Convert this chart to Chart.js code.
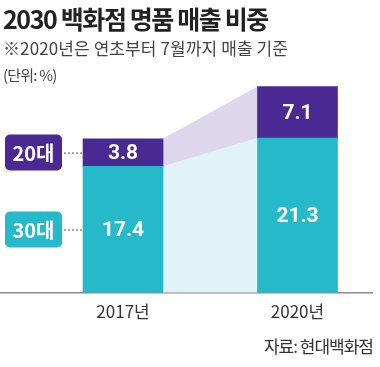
<!DOCTYPE html>
<html>
<head>
<meta charset="utf-8">
<script src="https://cdn.jsdelivr.net/npm/chart.js@4.4.1/dist/chart.umd.min.js"></script>
<style>
  html, body { margin: 0; padding: 0; background: #fff; }
  #wrap { position: relative; width: 380px; height: 367px; overflow: hidden; font-family: "Noto Sans CJK KR", sans-serif; }
  #chart { position: absolute; left: 0; top: 0; }
  .txt { position: absolute; left: 3px; white-space: nowrap; color: #333; }
  #title { top: 0px; font-size: 25px; font-weight: 700; color: #222; letter-spacing: -1.4px; }
  #sub { top: 35px; font-size: 17px; letter-spacing: 0.1px; color: #444; }
  #unit { top: 64px; font-size: 15px; letter-spacing: -0.8px; color: #444; }
  #src { top: 333px; left: auto; right: 7px; font-size: 17px; letter-spacing: -1px; color: #333; }
</style>
</head>
<body>
<div id="wrap">
  <canvas id="chart" width="380" height="367"></canvas>
  <div class="txt" id="title">2030 백화점 명품 매출 비중</div>
  <div class="txt" id="sub">※2020년은 연초부터 7월까지 매출 기준</div>
  <div class="txt" id="unit">(단위: %)</div>
  <div class="txt" id="src">자료: 현대백화점</div>
</div>
<script>
// 연도 / 세대별 비중
const years = ["2017년", "2020년"];
const groups = ["30대", "20대"];
const share30 = [17.4, 21.3];
const share20 = [3.8, 7.1];

const PURPLE = "#4a2a92";
const TEAL = "#25b9c9";
const PURPLE_LIGHT = "#ddd6ec";
const TEAL_LIGHT = "#e2f3f7";

// 막대 사이 연결 띠 + 값 라벨 + 왼쪽 범례 박스
const bandPlugin = {
  id: "band",
  beforeDatasetsDraw(chart) {
    const ctx = chart.ctx;
    const lo = chart.getDatasetMeta(0).data;
    const hi = chart.getDatasetMeta(1).data;
    const a = lo[0], b = lo[1];
    const ah = hi[0], bh = hi[1];
    const ax = a.x + a.width / 2, bx = b.x - b.width / 2;
    ctx.save();
    ctx.fillStyle = TEAL_LIGHT;
    ctx.beginPath();
    ctx.moveTo(ax, a.y); ctx.lineTo(bx, b.y); ctx.lineTo(bx, b.base); ctx.lineTo(ax, a.base);
    ctx.closePath(); ctx.fill();
    ctx.fillStyle = PURPLE_LIGHT;
    ctx.beginPath();
    ctx.moveTo(ax, ah.y); ctx.lineTo(bx, bh.y); ctx.lineTo(bx, bh.base); ctx.lineTo(ax, ah.base);
    ctx.closePath(); ctx.fill();
    ctx.restore();
  },
  afterDatasetsDraw(chart) {
    const ctx = chart.ctx;
    ctx.save();
    ctx.textAlign = "center";
    ctx.textBaseline = "middle";
    ctx.fillStyle = "#fff";
    ctx.font = "bold 21px Roboto, sans-serif";
    chart.data.datasets.forEach((ds, di) => {
      chart.getDatasetMeta(di).data.forEach((bar, i) => {
        const v = ds.data[i].y;
        ctx.fillText(v.toFixed(1), bar.x, (bar.y + bar.base) / 2 + 1);
      });
    });
    // 범례 박스 (첫 막대 기준)
    const first = [chart.getDatasetMeta(0).data[0], chart.getDatasetMeta(1).data[0]];
    const colors = [TEAL, PURPLE];
    first.forEach((bar, gi) => {
      const cy = (bar.y + bar.base) / 2;
      const bx = 5, bw = 57, bh = 36;
      ctx.fillStyle = colors[gi];
      ctx.beginPath();
      ctx.roundRect(bx, cy - bh / 2, bw, bh, 5);
      ctx.fill();
      ctx.fillStyle = "#fff";
      ctx.font = "bold 20px 'Noto Sans CJK KR', sans-serif";
      ctx.fillText(groups[gi], bx + bw / 2, cy + 1);
      // 점선
      ctx.strokeStyle = "#555";
      ctx.lineWidth = 1;
      ctx.setLineDash([2, 2]);
      ctx.beginPath();
      ctx.moveTo(bx + bw + 2, cy + 0.5);
      ctx.lineTo(bar.x - bar.width / 2, cy + 0.5);
      ctx.stroke();
      ctx.setLineDash([]);
    });
    ctx.restore();
  }
};

new Chart(document.getElementById("chart"), {
  type: "bar",
  data: {
    datasets: [
      { label: groups[0], data: share30.map((v, i) => ({ x: i, y: v })), backgroundColor: TEAL, barThickness: 80 },
      { label: groups[1], data: share20.map((v, i) => ({ x: i, y: v })), backgroundColor: PURPLE, barThickness: 80 },
    ],
  },
  options: {
    responsive: false,
    animation: false,
    layout: { padding: { top: 80, left: 0, right: 8, bottom: 36 } },
    plugins: { legend: { display: false }, tooltip: { enabled: false } },
    scales: {
      x: {
        type: "linear",
        stacked: true,
        offset: false,
        min: -0.705,
        max: 1.427,
        afterBuildTicks: (s) => { s.ticks = [{ value: 0 }, { value: 1 }]; },
        grid: { display: false, drawTicks: false },
        border: { display: true, color: "#8a8a8a", width: 1.5 },
        ticks: {
          callback: (v) => years[v] ?? "",
          color: "#333",
          padding: 9,
          maxRotation: 0,
          font: { family: "'Noto Sans CJK KR', sans-serif", size: 17 },
        },
      },
      y: {
        stacked: true,
        display: false,
        min: 0,
        max: 29.3,
      },
    },
  },
  plugins: [bandPlugin],
});
</script>
</body>
</html>
